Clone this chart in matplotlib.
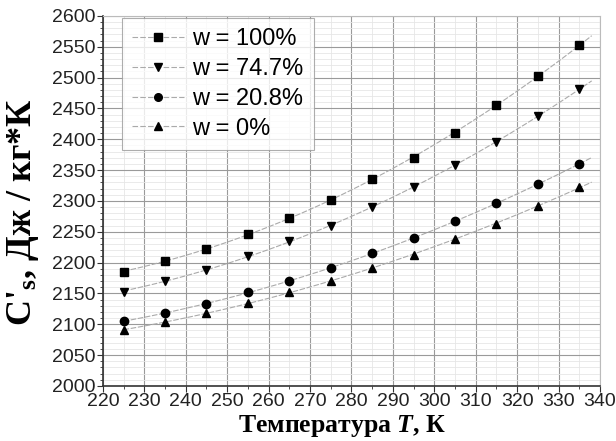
import numpy as np
import matplotlib
matplotlib.use("Agg")
import matplotlib.pyplot as plt
from matplotlib.ticker import MultipleLocator

plt.rcParams['font.family'] = ['Liberation Sans', 'DejaVu Sans']
plt.rcParams['mathtext.fontset'] = 'custom'
plt.rcParams['mathtext.rm'] = 'Liberation Serif:bold'
plt.rcParams['mathtext.it'] = 'Liberation Serif:italic:bold'
plt.rcParams['mathtext.bf'] = 'Liberation Serif:bold'

# temperature, K
T = [225, 235, 245, 255, 265, 275, 285, 295, 305, 315, 325, 335]

# specific heat, J/(kg*K)
c_100 = [2185, 2202, 2222, 2247, 2272, 2302, 2335, 2370, 2410, 2455, 2502, 2553]
c_747 = [2153, 2170, 2188, 2210, 2235, 2260, 2290, 2322, 2358, 2395, 2437, 2482]
c_208 = [2105, 2118, 2133, 2152, 2170, 2191, 2215, 2240, 2267, 2296, 2327, 2360]
c_0 = [2090, 2104, 2118, 2134, 2152, 2170, 2191, 2213, 2238, 2263, 2292, 2322]

labels = ["w = 100%", "w = 74.7%", "w = 20.8%", "w = 0%"]
markers = ["s", "v", "o", "^"]

fig = plt.figure(figsize=(6.16, 4.41), dpi=100)
ax = fig.add_axes([0.167, 0.125, 0.807, 0.839])

for ys, lab, m in zip([c_100, c_747, c_208, c_0], labels, markers):
    # smooth trend line (quadratic fit through the measured points)
    p = np.polyfit(T, ys, 2)
    tt = np.linspace(T[0], T[-1] + 3, 100)
    ax.plot(tt, np.polyval(p, tt), color="#aaaaaa", lw=0.8, ls=(0, (5, 1.5)))
    ax.plot(T, ys, ls="none", marker=m, color="black", ms=6)
    ax.plot([], [], color="#aaaaaa", lw=0.8, ls=(0, (5, 2)), marker=m,
            mfc="black", mec="black", ms=5.5, label=lab)

ax.set_xlim(220, 340)
ax.set_ylim(2000, 2600)
ax.xaxis.set_major_locator(MultipleLocator(10))
ax.xaxis.set_minor_locator(MultipleLocator(5))
ax.yaxis.set_major_locator(MultipleLocator(50))
ax.yaxis.set_minor_locator(MultipleLocator(10))
ax.grid(which="major", color="#9a9a9a", lw=0.8)
ax.grid(which="minor", color="#e6e6e6", lw=0.6)
ax.set_axisbelow(True)

for s in ["top", "right"]:
    ax.spines[s].set_color("#bbbbbb")
    ax.spines[s].set_linewidth(0.8)
for s in ["left", "bottom"]:
    ax.spines[s].set_color("#333333")
    ax.spines[s].set_linewidth(1.2)

ax.tick_params(which="major", direction="out", length=4, labelsize=14,
               colors="#333333", pad=1)
ax.tick_params(which="minor", direction="out", length=2, colors="#333333")
for lbl in ax.get_xticklabels() + ax.get_yticklabels():
    lbl.set_color("#222222")

ax.set_ylabel("C'$_{\\mathrm{s}}$, Дж / кг*К", fontsize=26, fontweight="bold",
              family=["Liberation Serif", "DejaVu Serif"])
ax.yaxis.set_label_coords(-0.125, 0.47)
ax.set_xlabel("Температура $T$, К", fontsize=18.5, fontweight="bold",
              family=["Liberation Serif", "DejaVu Serif"])
ax.xaxis.set_label_coords(0.48, -0.073)

leg = ax.legend(loc="upper left", fontsize=17, frameon=True, fancybox=False,
                edgecolor="#999999", handlelength=2.2, borderpad=0.45,
                labelspacing=0.33, handletextpad=0.34, borderaxespad=0,
                bbox_to_anchor=(0.038, 0.995))
leg.get_frame().set_linewidth(0.8)

fig.savefig("out.png", dpi=100)
